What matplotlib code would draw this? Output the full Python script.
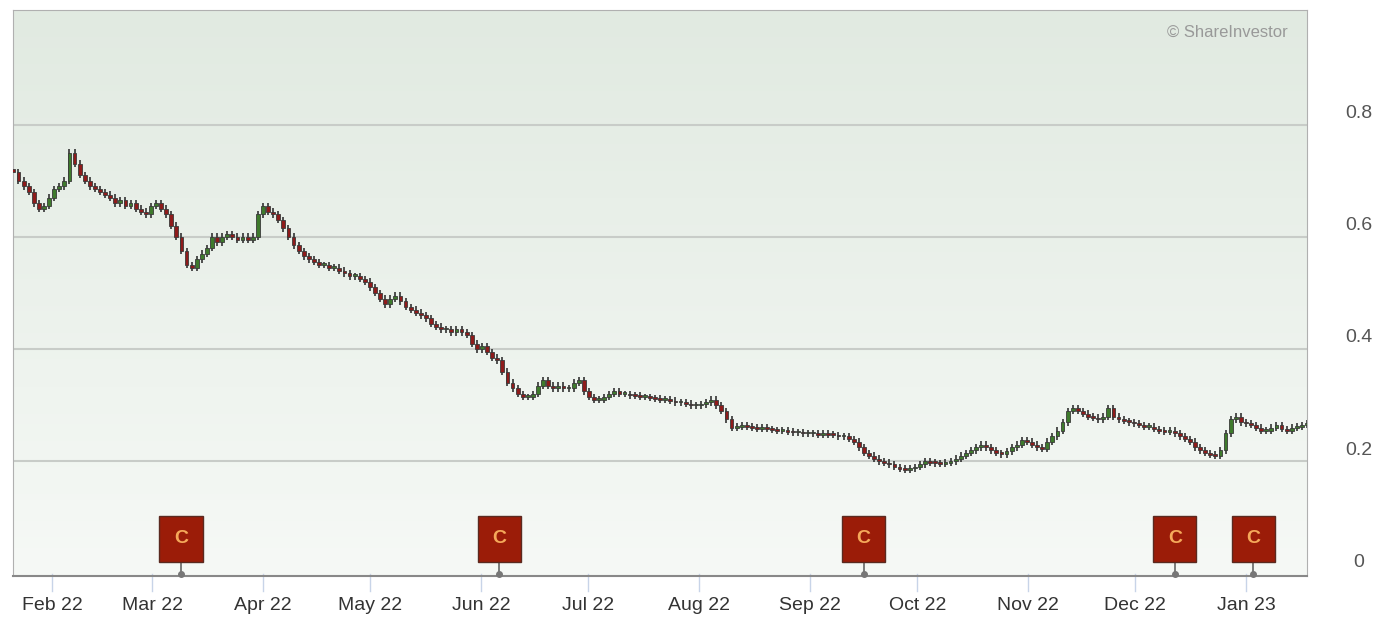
import numpy as np
import pandas as pd
import matplotlib
matplotlib.use("Agg")
import matplotlib.pyplot as plt
import matplotlib.dates as mdates
from matplotlib.patches import Rectangle

plt.rcParams["font.family"] = ["Liberation Sans", "DejaVu Sans"]

closes = [
    0.72, 0.725, 0.72, 0.715, 0.72, 0.715, 0.70, 0.69, 0.68, 0.66, 0.65, 0.655,
    0.67, 0.685, 0.69, 0.70, 0.75, 0.73, 0.71, 0.70, 0.69, 0.685, 0.68, 0.675, 0.67,
    0.66, 0.665, 0.655, 0.66, 0.65, 0.645, 0.64, 0.655, 0.66, 0.65, 0.64, 0.62, 0.60, 0.575, 0.55, 0.545, 0.56, 0.57, 0.58, 0.60, 0.59, 0.60, 0.605,
    0.60, 0.595, 0.60, 0.595, 0.60, 0.64, 0.655, 0.645, 0.64, 0.63, 0.615, 0.60, 0.585, 0.575, 0.565, 0.56, 0.555, 0.55, 0.55, 0.545,
    0.545, 0.54, 0.535, 0.53, 0.53, 0.525, 0.52, 0.51, 0.50, 0.49, 0.48, 0.49, 0.495, 0.485, 0.475, 0.47, 0.465, 0.46, 0.455, 0.445, 0.44,
    0.435, 0.435, 0.43, 0.435, 0.43, 0.425, 0.41, 0.40, 0.405, 0.395, 0.385, 0.38, 0.36, 0.34, 0.33, 0.32, 0.315, 0.315, 0.32, 0.335, 0.345, 0.335,
    0.33, 0.335, 0.33, 0.33, 0.34, 0.345, 0.325, 0.315, 0.31, 0.31, 0.315, 0.32, 0.325, 0.32, 0.32, 0.318, 0.317, 0.315, 0.315, 0.313, 0.312,
    0.31, 0.31, 0.308, 0.305, 0.305, 0.303, 0.30, 0.30, 0.302, 0.305, 0.31, 0.30, 0.29, 0.275, 0.26, 0.262, 0.265, 0.262, 0.26, 0.258, 0.26, 0.258, 0.256,
    0.255, 0.255, 0.253, 0.252, 0.252, 0.25, 0.25, 0.25, 0.248, 0.25, 0.248, 0.247, 0.245, 0.245, 0.24, 0.235, 0.225, 0.215, 0.21, 0.205, 0.20, 0.198,
    0.195, 0.19, 0.187, 0.185, 0.188, 0.19, 0.195, 0.20, 0.198, 0.197, 0.196, 0.198, 0.20, 0.205, 0.21, 0.215, 0.22, 0.225, 0.23, 0.225, 0.22,
    0.215, 0.213, 0.218, 0.225, 0.23, 0.238, 0.235, 0.23, 0.225, 0.222, 0.235, 0.245, 0.255, 0.27, 0.29, 0.295, 0.29, 0.285, 0.28, 0.278, 0.275, 0.28,
    0.295, 0.28, 0.275, 0.272, 0.27, 0.268, 0.265, 0.262, 0.262, 0.258, 0.255, 0.253, 0.255, 0.25, 0.245, 0.24, 0.235, 0.225, 0.22, 0.215, 0.212, 0.21,
    0.22, 0.25, 0.275, 0.28, 0.27, 0.268, 0.265, 0.26, 0.255, 0.255, 0.26, 0.265,
    0.258, 0.255, 0.26, 0.262, 0.265, 0.268,
]
first_date = "2022-01-14"
last_date = "2023-01-18"
event_dates = ["2022-03-09", "2022-06-06", "2022-09-16", "2022-12-12", "2023-01-03"]
yticks = [0, 0.2, 0.4, 0.6, 0.8]
ytick_labels = ["0", "0.2", "0.4", "0.6", "0.8"]

opens = [closes[0]] + closes[:-1]

fig = plt.figure(figsize=(13.79, 6.32), dpi=100)
fig.patch.set_facecolor("white")
ax = fig.add_axes([0.0094, 0.0886, 0.9384, 0.8956])

x0 = mdates.date2num(pd.Timestamp("2022-01-21"))
x1 = mdates.date2num(pd.Timestamp("2023-01-18"))

# background gradient (darker green at top, lighter at bottom)
grad = np.linspace(0, 1, 256).reshape(-1, 1)
cmap = matplotlib.colors.LinearSegmentedColormap.from_list("bg", ["#e1eae1", "#f6f9f6"])
ax.imshow(grad, aspect="auto", cmap=cmap, origin="upper",
          extent=[x0, x1, -0.004, 1.004], zorder=0)
ax.set_xlim(x0, x1)
ax.set_ylim(-0.004, 1.004)

for y in yticks[1:]:
    ax.axhline(y, color="#c8ccc8", lw=1.5, zorder=1)

# candles evenly spaced in trading time, as the source chart does
d_first = mdates.date2num(pd.Timestamp(first_date))
d_last = mdates.date2num(pd.Timestamp(last_date))
step = (d_last - d_first) / (len(closes) - 1)
xs = d_first + step * np.arange(len(closes))
w = step * 0.75
for x, o, c in zip(xs, opens, closes):
    up = c >= o
    col = "#3e7a2c" if up else "#8e1b1b"
    lo, hi = min(o, c), max(o, c)
    ax.vlines(x, lo - 0.006, hi + 0.006, color="#333333", lw=1.2, zorder=2)
    h = max(hi - lo, 0.003)
    ax.add_patch(Rectangle((x - w / 2, lo), w, h, facecolor=col,
                           edgecolor="#3a3a3a", lw=0.6, zorder=3))

# event markers
for d in event_dates:
    x = mdates.date2num(pd.Timestamp(d))
    ax.plot([x, x], [0, 0.04], color="#666666", lw=1.2, zorder=4, clip_on=False)
    ax.plot([x], [0], "o", color="#777777", ms=4, zorder=4, clip_on=False)
    ax.annotate("C", (x, 0.062), ha="center", va="center", fontsize=14,
                fontweight="bold", color="#f5a95a", zorder=5,
                bbox=dict(boxstyle="square,pad=0.75", fc="#9b1c08", ec="#5a2a20", lw=1))

ax.set_yticks([])
for y, lab in zip(yticks, ytick_labels):
    ax.text(1.04, y + 0.02, lab, transform=ax.get_yaxis_transform(), ha="center",
            va="center", fontsize=14, color="#555555")

ax.xaxis.set_major_locator(mdates.MonthLocator())
ax.xaxis.set_major_formatter(mdates.DateFormatter("%b %y"))
ax.tick_params(axis="x", direction="out", length=0, labelsize=14,
               labelcolor="#333333", pad=15)
for t in ax.get_xticks():
    ax.plot([t, t], [0, -0.03], color="#c8d4e8", lw=1, clip_on=False, zorder=1)

for s in ["left", "top", "right"]:
    ax.spines[s].set_color("#b0b0b0")
ax.spines["bottom"].set_color("#888888")
ax.spines["bottom"].set_linewidth(1.5)

ax.text(0.985, 0.96, "© ShareInvestor", transform=ax.transAxes, ha="right",
        va="center", fontsize=12, color="#999999")

fig.savefig("out.png", dpi=100)
